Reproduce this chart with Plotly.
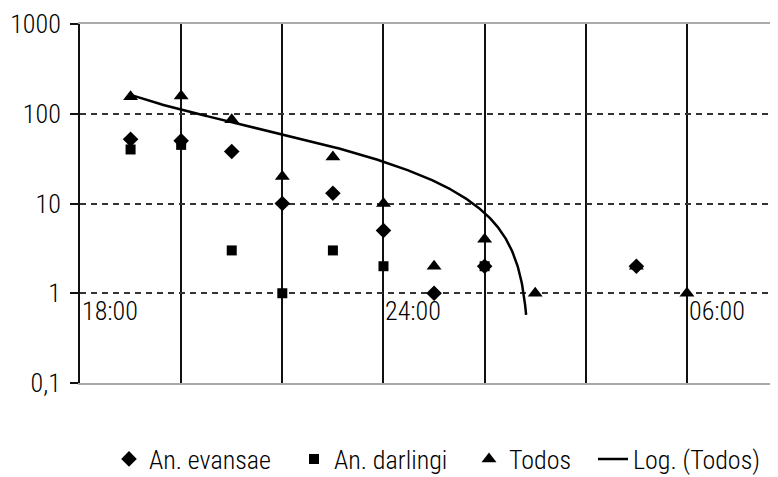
import numpy as np
import plotly.graph_objects as go

# ---- data (hours on a continuous clock: 24 = midnight, 30 = 06:00) ----
todos_hours = [19, 20, 21, 22, 23, 24, 25, 26, 27, 29, 30]
todos_vals = [155, 158, 86, 20, 33, 10, 2, 4, 1, 2, 1]

evansae_hours = [19, 20, 21, 22, 23, 24, 25, 26, 29]
evansae_vals = [52, 50, 38, 10, 13, 5, 1, 2, 2]

darlingi_hours = [19, 20, 21, 22, 23, 24, 26]
darlingi_vals = [40, 45, 3, 1, 3, 2, 2]

x_label_pos = [18, 24, 30]
x_label_text = ["18:00", "24:00", "06:00"]
y_tick_vals = [0.1, 1, 10, 100, 1000]
y_tick_text = ["0,1", "1", "10", "100", "1000"]

# ---- logarithmic trendline (Excel style: y = a*ln(t) + b, t = position from first sample) ----
t_data = np.array(todos_hours, dtype=float) - 18.0
a, b = np.polyfit(np.log(t_data), np.array(todos_vals, dtype=float), 1)
t_fine = np.arange(1.0, t_data.max() + 0.001, 0.01)
y_fine = a * np.log(t_fine) + b
keep = y_fine > 0.5
trend_x = (t_fine[keep] + 18.0).tolist()
trend_y = y_fine[keep].tolist()

FONT = "Liberation Sans Narrow, Arial Narrow, Roboto Condensed, DejaVu Sans Condensed, Liberation Sans, sans-serif"
TXT = "#000"

# the page body adds an 8 px margin, so the figure is sized to fill the rest
W, H = 770, 469

fig = go.Figure()
fig.add_trace(go.Scatter(
    x=evansae_hours, y=evansae_vals, mode="markers", name="An. evansae",
    marker=dict(symbol="diamond", size=12, color="black"), legend="legend",
))
fig.add_trace(go.Scatter(
    x=darlingi_hours, y=darlingi_vals, mode="markers", name="An. darlingi",
    marker=dict(symbol="square", size=10, color="black"), legend="legend2",
))
fig.add_trace(go.Scatter(
    x=todos_hours, y=todos_vals, mode="markers", name="Todos",
    marker=dict(symbol="triangle-up", size=13, color="black"), legend="legend3",
))
fig.add_trace(go.Scatter(
    x=trend_x, y=trend_y, mode="lines", name="Log. (Todos)",
    line=dict(color="black", width=2.5), legend="legend4",
))

for xv, txt in zip(x_label_pos, x_label_text):
    fig.add_annotation(
        x=xv, y=0, xref="x", yref="y", text=txt, showarrow=False,
        xanchor="left", yanchor="middle", xshift=0, yshift=-18,
        font=dict(family=FONT, size=26, color=TXT, weight=300),
    )

legend_common = dict(
    orientation="h", xref="container", yref="container",
    xanchor="left", yanchor="middle", y=18 / H,
    font=dict(family=FONT, size=26, color=TXT, weight=300),
    bgcolor="rgba(0,0,0,0)",
)

fig.update_layout(
    width=W, height=H,
    margin=dict(l=72, r=0, t=16, b=94, autoexpand=False),
    paper_bgcolor="white", plot_bgcolor="white",
    font=dict(family=FONT, size=26, color=TXT, weight=300),
    showlegend=True,
    legend=dict(x=101 / W, **legend_common),
    legend2=dict(x=286 / W, **legend_common),
    legend3=dict(x=461 / W, **legend_common),
    legend4=dict(x=585 / W, **legend_common),
    xaxis=dict(
        range=[18, 31.8], showticklabels=False, automargin=False,
        tickvals=[18, 20, 22, 24, 26, 28, 30],
        showgrid=True, gridcolor="#111", gridwidth=2,
        showline=True, linecolor="#aaa", linewidth=2, mirror=True,
        zeroline=False, ticks="",
    ),
    yaxis=dict(
        type="log", range=[-1, 3], automargin=False,
        tickvals=y_tick_vals, ticktext=y_tick_text,
        ticks="outside", ticklen=8, tickwidth=2, tickcolor="#111",
        ticklabelstandoff=4,
        showgrid=True, gridcolor="#333", gridwidth=2, griddash="6px,5px",
        showline=True, linecolor="#111", linewidth=2,
        zeroline=False,
        tickfont=dict(family=FONT, size=26, color=TXT, weight=300),
    ),
)

fig.write_html("out.html")
